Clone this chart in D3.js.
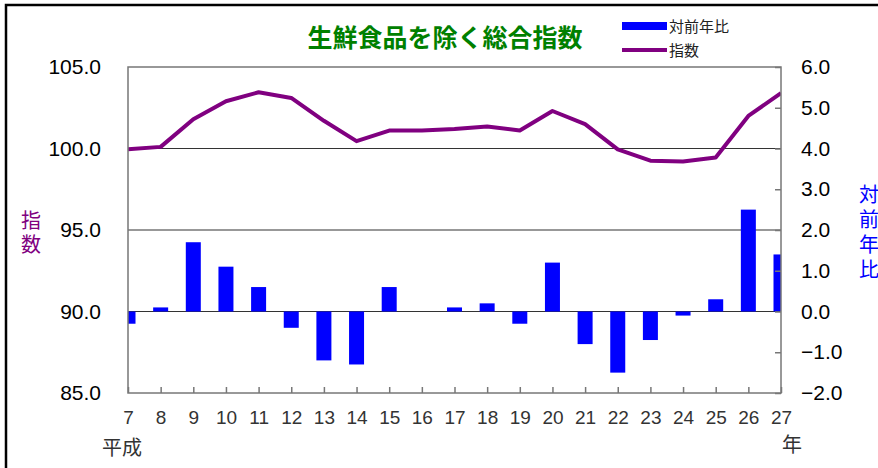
<!DOCTYPE html>
<html>
<head>
<meta charset="utf-8">
<script src="https://cdn.jsdelivr.net/npm/d3@7"></script>
<style>
  html, body { margin: 0; padding: 0; background: #fff; }
  svg { display: block; font-family: "Liberation Sans", "Noto Sans CJK JP", sans-serif; }
  .vertical { writing-mode: vertical-rl; text-orientation: upright; }
</style>
</head>
<body>
<svg id="chart" width="878" height="468"></svg>
<script>
const years = ["7", "8", "9", "10", "11", "12", "13", "14", "15", "16", "17", "18", "19", "20", "21", "22", "23", "24", "25", "26", "27"];
const indexValues = [99.95, 100.1, 101.8, 102.9, 103.45, 103.1, 101.7, 100.45, 101.1, 101.1, 101.2, 101.35, 101.1, 102.3, 101.5, 99.95, 99.25, 99.2, 99.45, 102.0, 103.4];
const yoyValues = [-0.3, 0.1, 1.7, 1.1, 0.6, -0.4, -1.2, -1.3, 0.6, 0.0, 0.1, 0.2, -0.3, 1.2, -0.8, -1.5, -0.7, -0.1, 0.3, 2.5, 1.4];
const leftTicks = [85, 90, 95, 100, 105];
const rightTicks = [-2, -1, 0, 1, 2, 3, 4, 5, 6];

const svg = d3.select("#chart");
const plot = { left: 128, right: 781, top: 67, bottom: 393 };

const x = d3.scalePoint().domain(years).range([plot.left, plot.right]);
const yLeft = d3.scaleLinear().domain([85, 105]).range([plot.bottom, plot.top]);
const yRight = d3.scaleLinear().domain([-2, 6]).range([plot.bottom, plot.top]);

// outer frame
svg.append("rect")
  .attr("x", 6).attr("y", 5)
  .attr("width", 890).attr("height", 480)
  .attr("fill", "none").attr("stroke", "#000").attr("stroke-width", 2.5);

svg.append("defs").append("clipPath").attr("id", "plot-clip")
  .append("rect")
  .attr("x", plot.left).attr("y", plot.top)
  .attr("width", plot.right - plot.left).attr("height", plot.bottom - plot.top);

// gridlines
svg.append("g").selectAll("line")
  .data([90, 95, 100])
  .join("line")
  .attr("x1", plot.left).attr("x2", plot.right)
  .attr("y1", (d) => yLeft(d)).attr("y2", (d) => yLeft(d))
  .attr("stroke", "#333").attr("stroke-width", 1.2);

// bars
svg.append("g").attr("clip-path", "url(#plot-clip)")
  .selectAll("rect")
  .data(yoyValues)
  .join("rect")
  .attr("x", (_, i) => x(years[i]) - 7.5)
  .attr("width", 15)
  .attr("y", (d) => yRight(Math.max(d, 0)))
  .attr("height", (d) => Math.abs(yRight(d) - yRight(0)))
  .attr("fill", "#0000ff");

// index line
svg.append("g").attr("clip-path", "url(#plot-clip)")
  .append("path")
  .datum(indexValues)
  .attr("fill", "none")
  .attr("stroke", "#800080")
  .attr("stroke-width", 4)
  .attr("stroke-linejoin", "round")
  .attr("d", d3.line().x((_, i) => x(years[i])).y((d) => yLeft(d)));

// plot frame
svg.append("rect")
  .attr("x", plot.left).attr("y", plot.top)
  .attr("width", plot.right - plot.left).attr("height", plot.bottom - plot.top)
  .attr("fill", "none").attr("stroke", "#777").attr("stroke-width", 1.5);

// x axis ticks (inward) and labels
const xAxis = svg.append("g")
  .attr("transform", `translate(0,${plot.bottom})`)
  .call(d3.axisBottom(x).tickSize(-6).tickPadding(18));
xAxis.select(".domain").remove();
xAxis.selectAll(".tick line").attr("stroke", "#777").attr("stroke-width", 1.5);
xAxis.selectAll(".tick text")
  .attr("font-size", 19).attr("fill", "#333")
  .attr("font-family", "Liberation Sans, sans-serif");

// left axis labels
const leftAxis = svg.append("g")
  .attr("transform", `translate(${plot.left},0)`)
  .call(d3.axisLeft(yLeft).tickValues(leftTicks).tickFormat(d3.format(".1f")).tickSize(0).tickPadding(27));
leftAxis.select(".domain").remove();
leftAxis.selectAll(".tick text").attr("font-size", 21).attr("fill", "#000");

// right axis ticks (inward) and labels
const rightAxis = svg.append("g")
  .attr("transform", `translate(${plot.right},0)`)
  .call(d3.axisRight(yRight).tickValues(rightTicks).tickFormat(d3.format(".1f")).tickSize(-6).tickPadding(20));
rightAxis.select(".domain").remove();
rightAxis.selectAll(".tick line").attr("stroke", "#777").attr("stroke-width", 1.5);
rightAxis.selectAll(".tick text").attr("font-size", 21).attr("fill", "#000");

// title
svg.append("text")
  .attr("x", 445).attr("y", 47)
  .attr("text-anchor", "middle")
  .attr("font-family", "Noto Sans CJK JP")
  .attr("font-weight", "bold")
  .attr("font-size", 25)
  .attr("fill", "#008000")
  .text("生鮮食品を除く総合指数");

// legend
const legend = svg.append("g").attr("font-family", "Noto Sans CJK JP").attr("font-size", 15).attr("fill", "#222");
legend.append("rect").attr("x", 622).attr("y", 22).attr("width", 45).attr("height", 8).attr("fill", "#0000ff");
legend.append("text").attr("x", 669).attr("y", 32).text("対前年比");
legend.append("line").attr("x1", 622).attr("x2", 667).attr("y1", 50).attr("y2", 50)
  .attr("stroke", "#800080").attr("stroke-width", 4);
legend.append("text").attr("x", 669).attr("y", 56).text("指数");

// axis titles, written vertically
svg.append("text")
  .attr("class", "vertical")
  .attr("x", 31).attr("y", 210)
  .attr("letter-spacing", 4)
  .attr("font-family", "Noto Sans CJK JP").attr("font-size", 20).attr("fill", "#800080")
  .text("指数");

svg.append("text")
  .attr("class", "vertical")
  .attr("x", 869).attr("y", 184)
  .attr("letter-spacing", 5)
  .attr("font-family", "Noto Sans CJK JP").attr("font-size", 20).attr("fill", "#0000ff")
  .text("対前年比");

svg.append("text")
  .attr("x", 102).attr("y", 455)
  .attr("font-family", "Noto Sans CJK JP").attr("font-size", 20).attr("fill", "#333")
  .text("平成");

svg.append("text")
  .attr("x", 782).attr("y", 452)
  .attr("font-family", "Noto Sans CJK JP").attr("font-size", 20).attr("fill", "#333")
  .text("年");
</script>
</body>
</html>
